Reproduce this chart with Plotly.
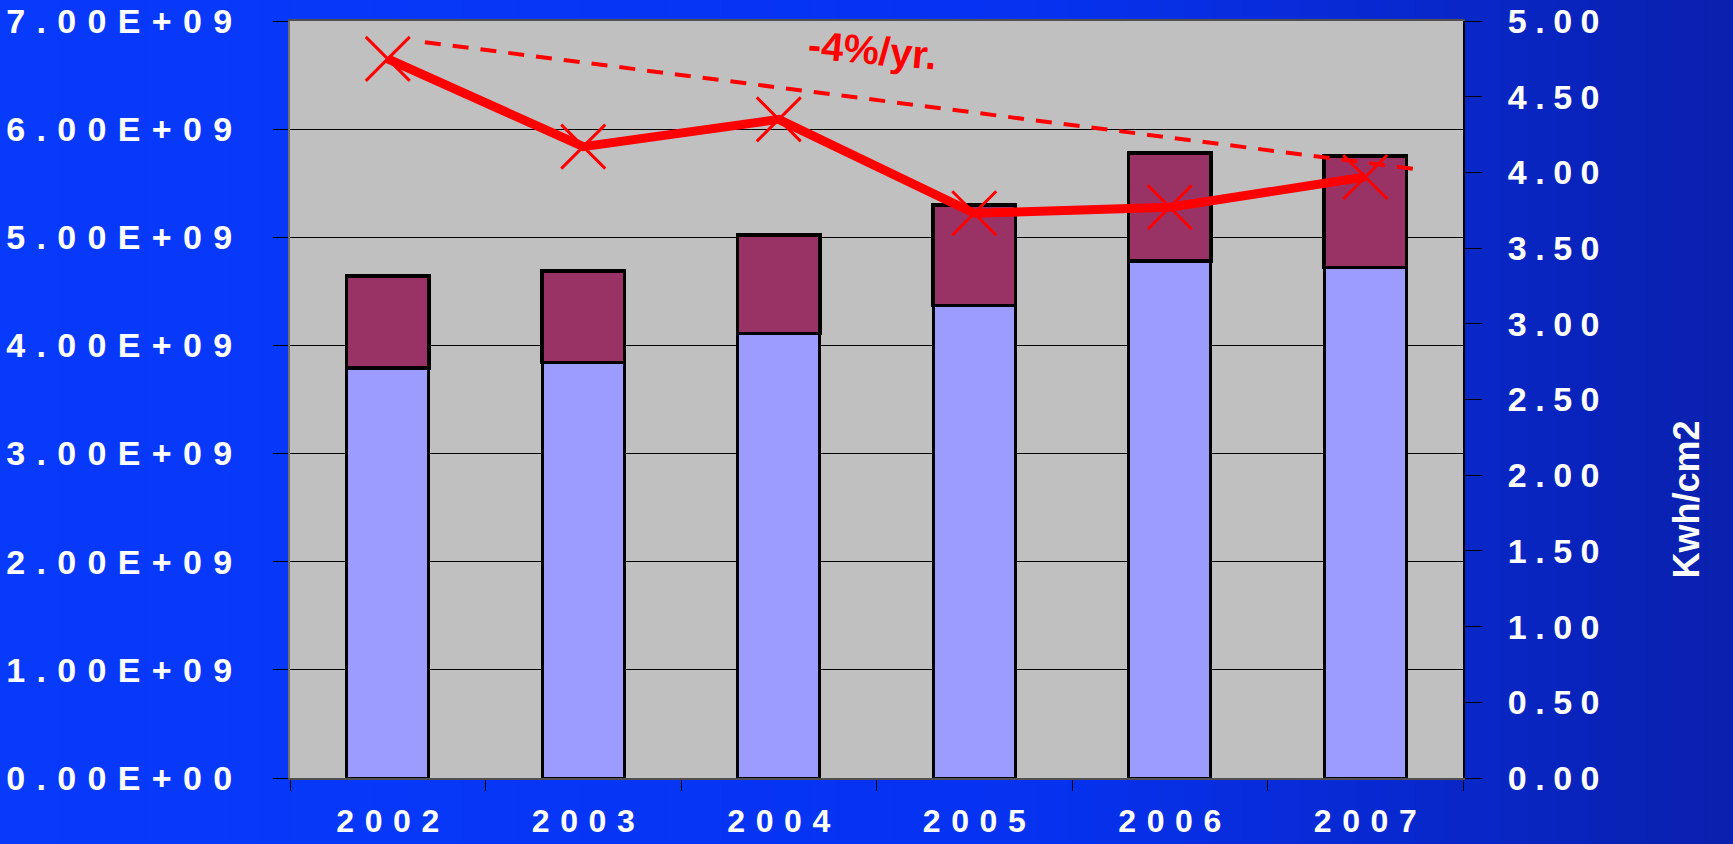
import plotly.graph_objects as go

# ---------------- data ----------------
years = ["2002", "2003", "2004", "2005", "2006", "2007"]
lower_vals = [3.79e9, 3.84e9, 4.11e9, 4.37e9, 4.78e9, 4.72e9]
upper_vals = [0.85e9, 0.85e9, 0.91e9, 0.93e9, 1.00e9, 1.03e9]
kwh_vals = [4.75, 4.17, 4.35, 3.73, 3.77, 3.97]
trend_x = [0.19, 5.27]
trend_y = [4.86, 4.02]
trend_label = "-4%/yr."
left_tick_vals = [0, 1e9, 2e9, 3e9, 4e9, 5e9, 6e9, 7e9]
left_tick_labels = ["0.00E+00", "1.00E+09", "2.00E+09", "3.00E+09",
                    "4.00E+09", "5.00E+09", "6.00E+09", "7.00E+09"]
right_tick_vals = [0, 0.5, 1, 1.5, 2, 2.5, 3, 3.5, 4, 4.5, 5]
right_tick_labels = ["0.00", "0.50", "1.00", "1.50", "2.00", "2.50",
                     "3.00", "3.50", "4.00", "4.50", "5.00"]
right_title = "Kwh/cm2"

# ---------------- styling ----------------
W, H = 1733, 844
PL, PR, PT, PB = 290, 1463, 21, 778
FONT = "Liberation Sans, Arial, Helvetica, sans-serif"


def spaced(s, sep):
    return sep.join(list(s))


fig = go.Figure()

fig.add_trace(go.Bar(
    x=years, y=lower_vals, marker=dict(color="#9C9CFF", line=dict(color="black", width=3)),
    hoverinfo="skip"))
fig.add_trace(go.Bar(
    x=years, y=upper_vals, marker=dict(color="#993366", line=dict(color="black", width=3.5)),
    hoverinfo="skip"))
fig.add_trace(go.Scatter(
    x=years, y=kwh_vals, yaxis="y2", mode="lines+markers",
    line=dict(color="#FF0000", width=9),
    marker=dict(symbol="x-thin-open", size=44, color="#FF0000",
                line=dict(color="#FF0000", width=3)),
    hoverinfo="skip"))

shapes = []
# background gradient strips (paper)
stops = [(0.0, (8, 58, 252)), (0.6, (6, 50, 240)), (0.78, (8, 42, 212)), (1.0, (10, 32, 172))]


def col_at(t):
    for (a, ca), (b, cb) in zip(stops[:-1], stops[1:]):
        if a <= t <= b:
            f = (t - a) / (b - a) if b > a else 0
            return tuple(round(ca[i] + (cb[i] - ca[i]) * f) for i in range(3))
    return stops[-1][1]


N = 60
for i in range(N):
    x0, x1 = i / N, (i + 1) / N + 0.002
    c = col_at((i + 0.5) / N)
    shapes.append(dict(type="rect", xref="paper", yref="paper", x0=x0, x1=x1, y0=0, y1=1,
                       fillcolor="rgb(%d,%d,%d)" % c, line=dict(width=0), layer="below"))
# grey plot area
shapes.append(dict(type="rect", xref="x", yref="y", x0=-0.5, x1=len(years) - 0.5,
                   y0=0, y1=7e9, fillcolor="#C0C0C0", line=dict(width=0), layer="below"))
# dashed trend line
shapes.append(dict(type="line", xref="x", yref="y2", x0=trend_x[0], y0=trend_y[0],
                   x1=trend_x[1], y1=trend_y[1],
                   line=dict(color="#FF0000", width=4, dash="16px,12px"), layer="above"))

annotations = [
    dict(x=2.48, y=4.81, xref="x", yref="y2", text=trend_label, showarrow=False,
         textangle=5, font=dict(family=FONT, size=40, color="#FF0000", weight="bold")),
    dict(x=1708 / W, y=1 - 500 / H, xref="paper", yref="paper", text=right_title,
         showarrow=False, textangle=-90,
         font=dict(family=FONT, size=36, color="white", weight="bold")),
]

tickfont = dict(family=FONT, size=34, color="white", weight="bold")
xtickfont = dict(family=FONT, size=32, color="white", weight="bold")

fig.update_layout(
    width=W, height=H,
    margin=dict(l=0, r=0, t=0, b=0, autoexpand=False),
    paper_bgcolor="rgb(6,50,240)",
    plot_bgcolor="#C0C0C0",
    barmode="stack",
    bargap=0.58,
    showlegend=False,
    shapes=shapes,
    annotations=annotations,
    xaxis=dict(
        domain=[PL / W, PR / W], type="category", categoryorder="array", categoryarray=years,
        tickmode="array", tickvals=years, ticktext=[spaced(y, "\u2004") for y in years],
        tickson="boundaries", ticks="outside", ticklen=11, tickwidth=1, tickcolor="black",
        tickfont=xtickfont, ticklabelstandoff=14,
        showline=True, linecolor="#505050", linewidth=2, mirror=True,
        showgrid=False, zeroline=False, automargin=False, fixedrange=True,
        range=[-0.5, len(years) - 0.5]),
    yaxis=dict(
        domain=[1 - PB / H, 1 - PT / H], range=[0, 7e9],
        tickmode="array", tickvals=left_tick_vals,
        ticktext=[spaced(t, "\u2004") for t in left_tick_labels],
        ticks="outside", ticklen=15, tickwidth=1, tickcolor="black",
        tickfont=tickfont, ticklabelstandoff=34,
        showgrid=True, gridcolor="black", gridwidth=1,
        showline=True, linecolor="#707070", linewidth=2,
        zeroline=False, automargin=False, fixedrange=True),
    yaxis2=dict(
        overlaying="y", side="right", range=[0, 5],
        tickmode="array", tickvals=right_tick_vals,
        ticktext=[spaced(t, "\u2005") for t in right_tick_labels],
        ticks="outside", ticklen=17, tickwidth=1, tickcolor="black",
        tickfont=tickfont, ticklabelstandoff=19,
        showgrid=False, showline=True, linecolor="black", linewidth=2,
        zeroline=False, automargin=False, fixedrange=True),
)

fig.write_html("out.html", config={"displayModeBar": False},
               post_script="document.body.style.margin='0';document.body.style.overflow='hidden';")
